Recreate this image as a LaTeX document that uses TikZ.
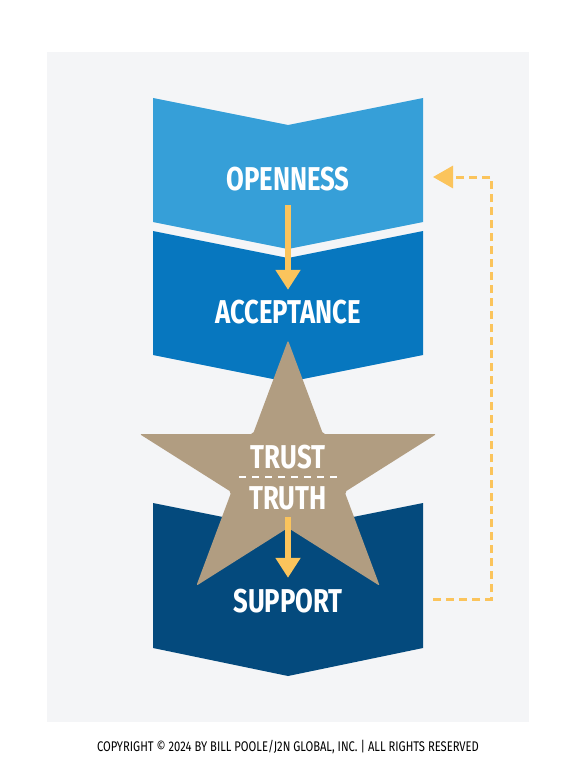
\documentclass[tikz,border=0pt]{standalone}
\usepackage{fontspec}
\setmainfont{Fira Sans}
\newfontfamily\labfont[FakeStretch=0.78]{Fira Sans}
\newfontfamily\copyfont[FakeStretch=0.8]{Fira Sans}
\usetikzlibrary{arrows.meta}
\definecolor{bgc}{HTML}{F4F5F7}
\definecolor{cone}{HTML}{369FD8}
\definecolor{ctwo}{HTML}{0777BF}
\definecolor{cthree}{HTML}{044A7D}
\definecolor{starc}{HTML}{B19D81}
\definecolor{yel}{HTML}{FBC45C}
\tikzset{
  lab/.style={text=white, inner sep=0pt, font=\labfont\bfseries\fontsize{33}{33}\selectfont},
  yarrow/.style={draw=yel, line width=6pt, -{Triangle[length=20pt,width=24pt]}},
  fbarrow/.style={draw=yel, line width=3pt, dash pattern=on 8pt off 5pt, -{Triangle[length=20pt,width=22pt]}},
}
\begin{document}
\begin{tikzpicture}[x=1pt,y=-1pt]
\useasboundingbox (0,0) rectangle (576,770);
\fill[white] (0,0) rectangle (576,770);
\fill[bgc] (47,52) rectangle (529,722);
% chevrons
\fill[cone] (153,98) -- (288,125) -- (423,98) -- (423,222) -- (288,249) -- (153,222) -- cycle;
\fill[ctwo] (153,231) -- (288,258) -- (423,231) -- (423,355) -- (288,382) -- (153,355) -- cycle;
\fill[cthree] (153,503) -- (288,530) -- (423,503) -- (423,648) -- (288,676) -- (153,648) -- cycle;
% star
\begin{scope}[shift={(288,476)}, yscale=-0.87]
\fill[starc, rounded corners=2pt] (90:156) -- (54:59.6) -- (18:156) -- (-18:59.6) -- (-54:156) -- (-90:59.6) -- (-126:156) -- (-162:59.6) -- (162:156) -- (126:59.6) -- cycle;
\end{scope}
% labels
\node[lab] (open) at (288,179) {OPENNESS};
\node[lab] (accept) at (288,312) {ACCEPTANCE};
\node[lab] (trust) at (288,457) {TRUST};
\node[lab] (truth) at (288,498) {TRUTH};
\node[lab] (support) at (288,601) {SUPPORT};
\draw[white, line width=2pt, dash pattern=on 7pt off 6pt] (239,477) -- (337,477);
% arrows
\draw[yarrow, shorten <=14pt, shorten >=10pt] (open.south) -- (accept.north);
\draw[yarrow, shorten <=7pt, shorten >=11pt] (truth.south) -- (support.north);
\coordinate (fbstart) at (433,599);
\coordinate (fbend) at (433,177);
\draw[fbarrow] (fbstart) -- (491,599) -- (491,177) -- (fbend);
\node[inner sep=0pt, font=\copyfont\fontsize{14}{14}\selectfont] (copy) at (288,747) {COPYRIGHT © 2024 BY BILL POOLE/J2N GLOBAL, INC. | ALL RIGHTS RESERVED};
\end{tikzpicture}
\end{document}
